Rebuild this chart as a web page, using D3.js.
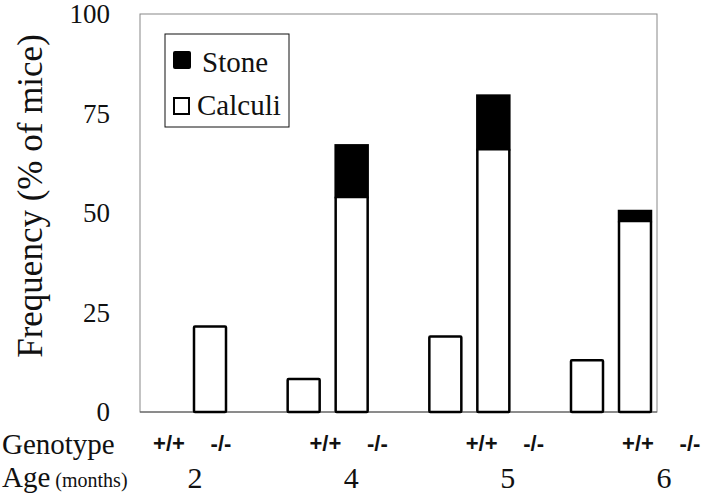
<!DOCTYPE html>
<html>
<head>
<meta charset="utf-8">
<script src="https://cdn.jsdelivr.net/npm/d3@7"></script>
<style>
  body { margin: 0; background: #fff; }
  svg { display: block; }
  .serif { font-family: "Liberation Serif", "Times New Roman", serif; }
  .sans { font-family: "Liberation Sans", Arial, sans-serif; }
</style>
</head>
<body>
<div id="chart"></div>
<script>
// data
const ages = ["2", "4", "5", "6"];
const genotypes = ["+/+", "-/-"];
const calculiWT = [0, 8.3, 19, 13];
const calculiKO = [21.5, 54, 66, 48];
const stoneWT = [0, 0, 0, 0];
const stoneKO = [0, 13, 13.5, 2.5];
const yTicks = [0, 25, 50, 75, 100];

const width = 720, height = 499;
const plotLeft = 140, plotRight = 657, plotTop = 14, plotBottom = 412;

const svg = d3.select("#chart").append("svg")
    .attr("width", width)
    .attr("height", height);

const y = d3.scaleLinear().domain([0, 100]).range([plotBottom, plotTop]);
const x = d3.scalePoint().domain(ages).range([186, 611]);
const xSub = d3.scalePoint().domain(genotypes).range([-24, 24]);
// labels under the plot sit a bit wider than the bars
const xLab = d3.scalePoint().domain(ages).range([195, 664]);
const xLabSub = d3.scalePoint().domain(genotypes).range([-26, 26]);
const barW = 32;

// frame
svg.append("rect")
    .attr("x", plotLeft).attr("y", plotTop)
    .attr("width", plotRight - plotLeft).attr("height", plotBottom - plotTop)
    .attr("fill", "none")
    .attr("stroke", "#888")
    .attr("stroke-width", 1);

svg.append("line")
    .attr("x1", plotLeft).attr("x2", plotRight)
    .attr("y1", plotBottom).attr("y2", plotBottom)
    .attr("stroke", "#555")
    .attr("stroke-width", 1.2);

// y axis
const yAxis = svg.append("g")
    .attr("transform", "translate(" + plotLeft + ",0)")
    .call(d3.axisLeft(y).tickValues(yTicks).tickSize(0).tickPadding(30));
yAxis.select(".domain").remove();
yAxis.attr("font-family", null);
yAxis.selectAll("text")
    .attr("class", "serif")
    .attr("font-size", 27)
    .attr("fill", "#111");

svg.append("text")
    .attr("class", "serif")
    .attr("transform", "translate(42," + 196 + ") rotate(-90)")
    .attr("text-anchor", "middle")
    .attr("font-size", 35)
    .attr("fill", "#111")
    .text("Frequency (% of mice)");

// build rows for the bars
let rows = [];
ages.forEach(function(a, i) {
  rows.push({age: a, geno: "+/+", calculi: calculiWT[i], stone: stoneWT[i]});
  rows.push({age: a, geno: "-/-", calculi: calculiKO[i], stone: stoneKO[i]});
});
rows = rows.filter(d => d.calculi + d.stone > 0);

const bars = svg.append("g").selectAll("g")
    .data(rows)
    .enter().append("g");

// stone part on top (black)
bars.filter(d => d.stone > 0).append("rect")
    .attr("x", d => x(d.age) + xSub(d.geno) - barW / 2)
    .attr("y", d => y(d.calculi + d.stone))
    .attr("width", barW)
    .attr("height", d => y(d.calculi) - y(d.calculi + d.stone))
    .attr("fill", "#000")
    .attr("stroke", "#000")
    .attr("stroke-width", 2.5);

// calculi part (white with black outline)
bars.append("rect")
    .attr("x", d => x(d.age) + xSub(d.geno) - barW / 2)
    .attr("y", d => y(d.calculi))
    .attr("width", barW)
    .attr("height", d => y(0) - y(d.calculi))
    .attr("fill", "#fff")
    .attr("stroke", "#000")
    .attr("stroke-width", 2.5)
    .attr("rx", 1);

// legend
const legend = svg.append("g");
legend.append("rect")
    .attr("x", 165).attr("y", 34)
    .attr("width", 124).attr("height", 93)
    .attr("fill", "#fff")
    .attr("stroke", "#111")
    .attr("stroke-width", 1);
legend.append("rect")
    .attr("x", 173).attr("y", 51)
    .attr("width", 18).attr("height", 18)
    .attr("rx", 2)
    .attr("fill", "#000");
legend.append("rect")
    .attr("x", 174).attr("y", 98)
    .attr("width", 15).attr("height", 16)
    .attr("fill", "#fff")
    .attr("stroke", "#000")
    .attr("stroke-width", 2);
legend.append("text")
    .attr("class", "serif")
    .attr("x", 202).attr("y", 72)
    .attr("font-size", 29)
    .attr("fill", "#111")
    .text("Stone");
legend.append("text")
    .attr("class", "serif")
    .attr("x", 197).attr("y", 115)
    .attr("font-size", 29)
    .attr("fill", "#111")
    .text("Calculi");

// bottom labels
svg.append("text")
    .attr("class", "serif")
    .attr("x", 2).attr("y", 454)
    .attr("font-size", 29)
    .attr("fill", "#111")
    .text("Genotype");

const ageTitle = svg.append("text")
    .attr("class", "serif")
    .attr("x", 2).attr("y", 487)
    .attr("font-size", 29)
    .attr("fill", "#111");
ageTitle.append("tspan").text("Age");
ageTitle.append("tspan").attr("font-size", 20).attr("dx", 5).text("(months)");

let genoLabels = [];
ages.forEach(a => genotypes.forEach(g => genoLabels.push({age: a, geno: g})));

svg.append("g").selectAll("text")
    .data(genoLabels)
    .enter().append("text")
    .attr("class", "sans")
    .attr("x", d => xLab(d.age) + xLabSub(d.geno))
    .attr("y", 451)
    .attr("text-anchor", "middle")
    .attr("font-size", 22)
    .attr("font-weight", "bold")
    .attr("fill", "#111")
    .text(d => d.geno);

svg.append("g").selectAll("text")
    .data(ages)
    .enter().append("text")
    .attr("class", "serif")
    .attr("x", d => xLab(d))
    .attr("y", 488)
    .attr("text-anchor", "middle")
    .attr("font-size", 30)
    .attr("fill", "#111")
    .text(d => d);
</script>
</body>
</html>
